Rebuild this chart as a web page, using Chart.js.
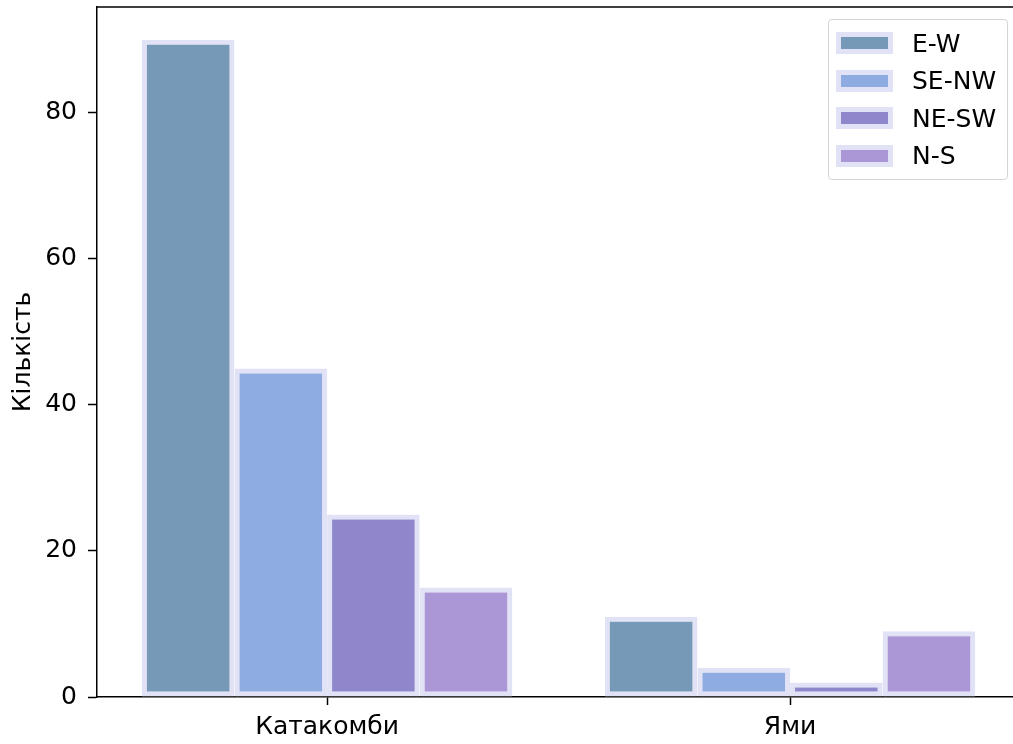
<!DOCTYPE html>
<html>
<head>
<meta charset="utf-8">
<script src="https://cdn.jsdelivr.net/npm/chart.js@4"></script>
<style>
  html, body { margin: 0; padding: 0; background: #fff; }
  #wrap { position: relative; width: 1013px; height: 744px; overflow: hidden; }
  #legend {
    position: absolute; left: 828px; top: 19px; width: 180px; height: 161px;
    box-sizing: border-box; border: 1.5px solid #d4d4d4; border-radius: 4px;
    background: rgba(255,255,255,0.85);
    font-family: 'DejaVu Sans', sans-serif; font-size: 25px; color: #000;
  }
  .item { position: absolute; left: 7px; height: 28px; display: flex; align-items: center; }
  .sw { width: 47px; height: 12px; border: 5px solid #e2e2f7; margin-right: 19px; }
</style>
</head>
<body>
<div id="wrap">
  <canvas id="c" width="1013" height="744"></canvas>
  <div id="legend"></div>
</div>
<script>
const categories = ['Катакомби', 'Ями'];
const seriesNames = ['E-W', 'SE-NW', 'NE-SW', 'N-S'];
const ewValues = [90, 11];
const seNwValues = [45, 4];
const neSwValues = [25, 2];
const nsValues = [15, 9];
const yTicks = [0, 20, 40, 60, 80];

const fills = ['#7599b7', '#8eace2', '#9086cb', '#ab97d6'];
const edge = '#e2e2f7';
const seriesValues = [ewValues, seNwValues, neSwValues, nsValues];

const datasets = seriesNames.map((name, i) => ({
  label: name,
  data: seriesValues[i].map((v, k) => ({ x: k, y: v })),
  backgroundColor: fills[i],
  borderColor: edge,
  borderWidth: 5,
  borderSkipped: false,
  categoryPercentage: 0.8,
  barPercentage: 1.0
}));

// верхня лінія рамки (права обрізана краєм картинки)
const frame = {
  id: 'frame',
  afterDraw(chart) {
    const a = chart.chartArea, ctx = chart.ctx;
    ctx.save();
    ctx.strokeStyle = '#000';
    ctx.lineWidth = 1.5;
    ctx.beginPath();
    ctx.moveTo(a.left, a.top);
    ctx.lineTo(a.right, a.top);
    ctx.stroke();
    ctx.restore();
  }
};

const font = { family: "'DejaVu Sans', sans-serif", size: 25 };

new Chart(document.getElementById('c'), {
  type: 'bar',
  data: { datasets: datasets },
  options: {
    responsive: false,
    animation: false,
    layout: { padding: { top: 7, right: 0, left: 0, bottom: 0 } },
    plugins: { legend: { display: false }, tooltip: { enabled: false } },
    scales: {
      x: {
        type: 'linear',
        offset: false,
        min: -0.497,
        max: 1.4816,
        grid: { display: true, offset: false, drawOnChartArea: false, tickLength: 8, tickColor: '#000', tickWidth: 1.5 },
        border: { display: true, color: '#000', width: 1.5 },
        ticks: { color: '#000', font: font, padding: 7, maxRotation: 0, callback: v => categories[v] },
        afterBuildTicks(s) { s.ticks = categories.map((c, k) => ({ value: k })); },
        afterFit(s) { s.height = 47; s.paddingLeft = 0; s.paddingRight = 0; }
      },
      y: {
        min: 0,
        max: 94.5,
        grid: { display: true, drawOnChartArea: false, tickLength: 9, tickColor: '#000', tickWidth: 1.5 },
        border: { display: true, color: '#000', width: 1.5 },
        ticks: { color: '#000', font: font, padding: 11 },
        afterBuildTicks(s) { s.ticks = yTicks.map(v => ({ value: v })); },
        title: { display: true, text: 'Кількість', color: '#000', font: font, padding: { top: 8, bottom: 0 } },
        afterFit(s) { s.width = 97; s.paddingTop = 0; s.paddingBottom = 0; }
      }
    }
  },
  plugins: [frame]
});

// легенда
const legend = document.getElementById('legend');
seriesNames.forEach((name, i) => {
  const item = document.createElement('div');
  item.className = 'item';
  item.style.top = (9 + i * 37.5) + 'px';
  const sw = document.createElement('div');
  sw.className = 'sw';
  sw.style.background = fills[i];
  const t = document.createElement('span');
  t.textContent = name;
  item.appendChild(sw);
  item.appendChild(t);
  legend.appendChild(item);
});
</script>
</body>
</html>
